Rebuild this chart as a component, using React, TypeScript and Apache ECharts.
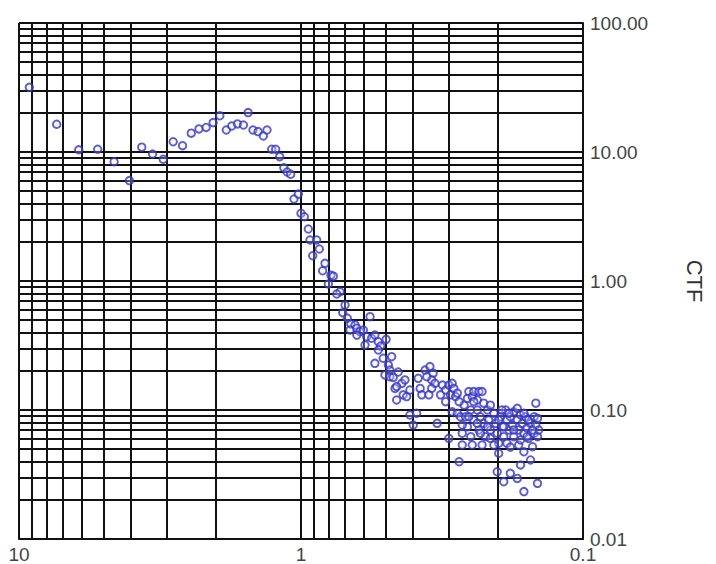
import { useEffect, useRef } from "react";
import * as echarts from "echarts";

// Resolution (x, log axis, reversed) and CTF (y, log axis)
const resolution = [
  9.19, 7.35, 6.14, 5.26, 4.6, 4.06, 3.67, 3.36, 3.08, 2.84,
  2.63, 2.45, 2.3, 2.17, 2.05, 1.94, 1.84, 1.76, 1.68, 1.6,
  1.54, 1.48, 1.42, 1.36, 1.32, 1.27, 1.23, 1.19, 1.15, 1.12,
  1.088, 1.059, 1.022, 1.0, 0.973, 0.942, 0.929, 0.88, 0.861, 0.909,
  0.822, 0.838, 0.783, 0.768, 0.8, 0.727, 0.747, 0.698, 0.711, 0.685,
  0.666, 0.643, 0.67, 0.634, 0.618, 0.601, 0.569, 0.585, 0.562, 0.547,
  0.532, 0.522, 0.499, 0.511, 0.547, 0.49, 0.484, 0.504, 0.484, 0.464,
  0.458, 0.439, 0.434, 0.428, 0.422, 0.411, 0.411, 0.4, 0.389, 0.378,
  0.373, 0.363, 0.349, 0.34, 0.344, 0.358, 0.335, 0.344, 0.329, 0.32,
  0.315, 0.307, 0.299, 0.291, 0.295, 0.283, 0.287, 0.279, 0.299, 0.291,
  0.279, 0.272, 0.275, 0.268, 0.268, 0.264, 0.261, 0.257, 0.254, 0.247,
  0.244, 0.237, 0.234, 0.228, 0.25, 0.244, 0.257, 0.25, 0.247, 0.237,
  0.231, 0.234, 0.228, 0.225, 0.218, 0.216, 0.222, 0.213, 0.213, 0.207,
  0.204, 0.2015, 0.199, 0.199, 0.196, 0.193, 0.191, 0.188, 0.186, 0.183,
  0.186, 0.181, 0.178, 0.176, 0.176, 0.171, 0.169, 0.169, 0.1665, 0.164,
  0.162, 0.162, 0.16, 0.158, 0.156, 0.1535, 0.151, 0.149, 0.147, 0.145,
  0.1435, 0.147, 0.156, 0.149, 0.145, 0.1535, 0.1665, 0.2015, 0.191, 0.181,
  0.171, 0.145, 0.162, 0.471, 0.458,
  0.194, 0.171, 0.162, 0.183, 0.199, 0.225, 0.213, 0.237, 0.254, 0.268,
  0.191, 0.176, 0.158, 0.151, 0.1665, 0.181, 0.207, 0.231, 0.218, 0.244,
  0.275, 0.307, 0.352, 0.384, 0.452, 0.477, 0.532, 0.593, 0.634
];
const ctf = [
  31.7, 16.4, 10.4, 10.5, 8.4, 6.0, 10.9, 9.65, 8.78, 12.0,
  11.2, 14.0, 15.1, 15.5, 16.9, 19.1, 14.8, 15.9, 16.5, 16.2,
  20.2, 14.8, 14.4, 13.3, 14.8, 10.5, 10.5, 9.2, 7.55, 7.0,
  6.72, 4.32, 4.72, 3.35, 3.15, 2.53, 2.08, 2.08, 1.77, 1.57,
  1.37, 1.2, 1.11, 1.09, 0.948, 0.826, 0.793, 0.652, 0.568, 0.514,
  0.464, 0.456, 0.417, 0.43, 0.405, 0.417, 0.529, 0.37, 0.36, 0.381,
  0.338, 0.313, 0.353, 0.252, 0.23, 0.223, 0.204, 0.187, 0.181, 0.147,
  0.1195, 0.161, 0.131, 0.171, 0.127, 0.143, 0.0915, 0.0765, 0.0943, 0.147,
  0.131, 0.204, 0.217, 0.193, 0.171, 0.181, 0.161, 0.147, 0.0788, 0.131,
  0.156, 0.143, 0.156, 0.161, 0.131, 0.127, 0.147, 0.135, 0.0603, 0.097,
  0.0943, 0.0887, 0.0397, 0.066, 0.0535, 0.109, 0.0887, 0.123, 0.139, 0.127,
  0.139, 0.1195, 0.139, 0.139, 0.1, 0.0837, 0.0742, 0.0621, 0.0535, 0.1,
  0.0887, 0.07, 0.0535, 0.0788, 0.1, 0.0837, 0.0621, 0.07, 0.0603, 0.0943,
  0.0788, 0.066, 0.0552, 0.0462, 0.0887, 0.0742, 0.0621, 0.1, 0.0837, 0.07,
  0.0552, 0.0887, 0.0765, 0.097, 0.0621, 0.0837, 0.07, 0.0535, 0.0915, 0.0788,
  0.066, 0.0475, 0.0887, 0.0725, 0.0603, 0.0788, 0.0519, 0.066, 0.0765, 0.0621,
  0.07, 0.113, 0.0837, 0.0887, 0.0862, 0.041, 0.0375, 0.0332, 0.0278, 0.0323,
  0.0295, 0.027, 0.0233, 0.179, 0.152,
  0.1, 0.103, 0.0943, 0.0943, 0.0837, 0.113, 0.109, 0.0788, 0.0887, 0.0765,
  0.0742, 0.07, 0.0621, 0.07, 0.0585, 0.0516, 0.0535, 0.066, 0.0742, 0.116,
  0.116, 0.116, 0.131, 0.176, 0.197, 0.259, 0.292, 0.319, 0.381
];

// Minor grid lines (log decades subdivided 2..9)
const xMinorLines = [9, 8, 7, 6, 5, 4, 3, 2, 0.9, 0.8, 0.7, 0.6, 0.5, 0.4, 0.3, 0.2];
const yMinorLines = [
  90, 80, 70, 60, 50, 40, 30, 20,
  9, 8, 7, 6, 5, 4, 3, 2,
  0.9, 0.8, 0.7, 0.6, 0.5, 0.4, 0.3, 0.2,
  0.09, 0.08, 0.07, 0.06, 0.05, 0.04, 0.03, 0.02
];

const X_MIN = 0.1;
const X_MAX = 10;
const Y_MIN = 0.01;
const Y_MAX = 100;
const Y_NAME = "CTF";

const FONT = "'Liberation Sans', Arial, sans-serif";
const GRID_COLOR = "#111";
const GRID_WIDTH = 2;

export default function App() {
  const ref = useRef<HTMLDivElement>(null);

  useEffect(() => {
    document.body.style.margin = "0";
    if (!ref.current) return;
    const chart = echarts.init(ref.current, undefined, { renderer: "svg" });
    const points = resolution.map((x, i) => [x, ctf[i]]);
    chart.setOption({
      animation: false,
      backgroundColor: "#fff",
      grid: { left: 19, top: 23, right: 133, bottom: 25, containLabel: false },
      xAxis: {
        type: "log",
        logBase: 10,
        min: X_MIN,
        max: X_MAX,
        inverse: true,
        axisLine: { show: true, onZero: false, lineStyle: { color: GRID_COLOR, width: GRID_WIDTH } },
        axisTick: { show: false },
        splitLine: { show: true, lineStyle: { color: GRID_COLOR, width: GRID_WIDTH } },
        axisLabel: {
          fontFamily: FONT,
          fontSize: 19,
          color: "#444",
          margin: 6,
          formatter: (v: number) => (v >= 1 ? String(Math.round(v)) : String(+v.toFixed(2))),
        },
      },
      yAxis: {
        type: "log",
        logBase: 10,
        min: Y_MIN,
        max: Y_MAX,
        position: "right",
        name: Y_NAME,
        nameLocation: "middle",
        nameRotate: -90,
        nameGap: 100,
        nameTextStyle: { fontFamily: FONT, fontSize: 22, color: "#333" },
        axisLine: { show: true, onZero: false, lineStyle: { color: GRID_COLOR, width: GRID_WIDTH } },
        axisTick: { show: false },
        splitLine: { show: true, lineStyle: { color: GRID_COLOR, width: GRID_WIDTH } },
        axisLabel: {
          fontFamily: FONT,
          fontSize: 19,
          color: "#444",
          margin: 7,
          formatter: (v: number) => v.toFixed(2),
        },
      },
      series: [
        {
          type: "scatter",
          z: 3,
          data: points,
          symbol: "circle",
          symbolSize: 7.5,
          itemStyle: {
            color: "rgba(235,235,255,0.35)",
            borderColor: "#3333cc",
            borderWidth: 1.9,
          },
          markLine: {
            silent: true,
            z: 1,
            symbol: "none",
            label: { show: false },
            lineStyle: { color: GRID_COLOR, width: GRID_WIDTH, type: "solid" },
            emphasis: { disabled: true },
            data: [
              ...xMinorLines.map((v) => ({ xAxis: v })),
              ...yMinorLines.map((v) => ({ yAxis: v })),
            ],
          },
        },
      ],
    });
    return () => chart.dispose();
  }, []);

  return <div ref={ref} style={{ width: 716, height: 564 }} />;
}
